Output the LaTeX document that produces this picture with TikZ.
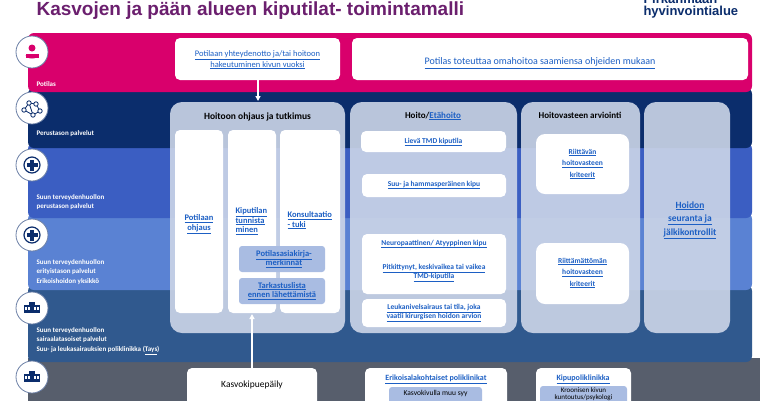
\documentclass[tikz,border=0pt]{standalone}
\usepackage{fontspec}
\setmainfont{Carlito}
\newfontfamily\titlefont{Liberation Sans}
\usetikzlibrary{arrows.meta}
\definecolor{cpink}{HTML}{D9006C}
\definecolor{cnavy}{HTML}{0B2D6C}
\definecolor{cblue}{HTML}{3B5EC2}
\definecolor{clblue}{HTML}{5A82D3}
\definecolor{csteel}{HTML}{30598E}
\definecolor{cgray}{HTML}{575E6C}
\definecolor{cpanel}{HTML}{CDD6E8}
\definecolor{csub}{HTML}{A9BCE2}
\definecolor{clink}{HTML}{1C5FC4}
\definecolor{cpurple}{HTML}{6B1F6E}
\newcommand{\lnk}[1]{\underline{#1}}
\tikzset{
  band/.style={rounded corners=6pt},
  whitebox/.style={fill=white,rounded corners=5pt,draw=none},
  panel/.style={fill=cpanel,fill opacity=0.9,rounded corners=12pt},
  subbox/.style={fill=csub,rounded corners=3pt},
  lnktxt/.style={text=clink,font=\bfseries\fontsize{8.5}{9.5}\selectfont,align=center},
  lbl/.style={text=white,font=\bfseries\fontsize{7}{9.5}\selectfont,anchor=west,align=left},
  ico/.style={circle,fill=white,draw=cnavy!60,line width=0.8pt,minimum size=32pt,inner sep=0pt},
  arr/.style={-{Triangle[length=5pt,width=5pt]},white,line width=1.5pt}
}
\begin{document}
\begin{tikzpicture}[x=1pt,y=-1pt]
\useasboundingbox (0,0) rectangle (760,400);
\clip (0,0) rectangle (760,400);
\fill[white] (0,0) rectangle (760,400);
% bands
\fill[cgray] (28,358) rectangle (760,410);
\fill[csteel,band] (28,285) rectangle (752,362);
\fill[clblue,band] (28,213) rectangle (752,290);
\fill[cblue,band] (28,143) rectangle (752,218);
\fill[cnavy,band] (28,88) rectangle (752,148);
\fill[cpink,band] (28,33) rectangle (752,92);
% title
\node[anchor=west,text=cpurple,font=\titlefont\bfseries\fontsize{19}{20}\selectfont] (title) at (33,11) {Kasvojen ja pään alueen kiputilat- toimintamalli};
\node[anchor=north west,text=cnavy,font=\titlefont\bfseries\fontsize{13}{12}\selectfont,align=left] (logo) at (640,-9) {Pirkanmaan\\hyvinvointialue};
% icons
\node[ico] (i1) at (32,52) {};
\node[ico] (i2) at (32,108) {};
\node[ico] (i3) at (32,165) {};
\node[ico] (i4) at (32,235) {};
\node[ico] (i5) at (32,308) {};
\node[ico] (i6) at (32,377) {};
\fill[cpink] (32,48) circle (3.5);
\fill[cpink] (25.5,58) rectangle (38.5,54) ;
\fill[cpink] (25.5,55) arc (180:0:6.5 and 3.5);
\begin{scope}[cnavy,line width=0.8pt]
\draw (24,110)--(29,103)--(36,104)--(40,111)--(33,115)--(24,110) (29,103)--(33,115);
\foreach \p in {(24,110),(29,103),(36,104),(40,111),(33,115)} \draw[fill=white] \p circle (2.2);
\end{scope}
\foreach \yy in {165,235}{
 \draw[cnavy,line width=1.2pt] (32,\yy) circle (8);
 \fill[cnavy] (30.3,\yy-5.5) rectangle (33.7,\yy+5.5);
 \fill[cnavy] (26.5,\yy-1.7) rectangle (37.5,\yy+1.7);
}
\foreach \yy in {308,377}{
 \fill[cnavy] (24,\yy-3) rectangle (40,\yy+5);
 \fill[cnavy] (29,\yy-6) rectangle (35,\yy-3);
 \foreach \xx in {26,29,35,38} \fill[white] (\xx-0.8,\yy-1) rectangle (\xx+0.8,\yy+1.5);
}
% band labels
\node[lbl] (l1) at (33,84) {Potilas};
\node[lbl] (l2) at (33,134) {Perustason palvelut};
\node[lbl] (l3) at (33,202) {Suun terveydenhuollon\\perustason palvelut};
\node[lbl] (l4) at (33,272) {Suun terveydenhuollon\\erityistason palvelut\\Erikoishoidon yksikkö};
\node[lbl] (l5) at (33,341) {Suun terveydenhuollon\\sairaalatasoiset palvelut\\Suu- ja leukasairauksien poliklinikka (\underline{Tays})};
% top boxes
\fill[whitebox] (175,38) rectangle (340,80);
\node[text=clink,font=\fontsize{8.5}{8.5}\selectfont,align=center] (b1) at (257.5,60) {\lnk{Potilaan yhteydenotto ja/tai hoitoon}\\\lnk{hakeutuminen kivun vuoksi}};
\fill[whitebox] (352,38) rectangle (748,80);
\node[text=clink,font=\fontsize{10}{10}\selectfont] (b2) at (540,63) {\lnk{Potilas toteuttaa omahoitoa saamiensa ohjeiden mukaan}};
% panels
\fill[panel] (170,102) rectangle (345,333);
\fill[panel] (350,102) rectangle (517,333);
\fill[panel] (521,102) rectangle (640,333);
\fill[panel] (644,102) rectangle (730,333);
\coordinate (p1top) at (258,101);
\coordinate (b1bot) at (258,80);
\draw[arr] (b1bot) -- (p1top);
\node[font=\bfseries\fontsize{9.5}{10}\selectfont] (t1) at (257.5,117) {Hoitoon ohjaus ja tutkimus};
\node[font=\bfseries\fontsize{9}{10}\selectfont] (t2) at (433,116) {Hoito/{\color{clink}\lnk{Etähoito}}};
\node[font=\bfseries\fontsize{9}{10}\selectfont] (t3) at (580,115) {Hoitovasteen arviointi};
% panel1 columns
\fill[whitebox] (175,130) rectangle (223,313);
\fill[whitebox] (228,130) rectangle (276,313);
\fill[whitebox] (280,130) rectangle (340,313);
\node[lnktxt,text width=46pt] (c1) at (199,224) {\lnk{Potilaan}\\\lnk{ohjaus}};
\node[lnktxt,anchor=north west,align=left] (c2) at (232,204) {\lnk{Kiputilan}\\\lnk{tunnista}\\\lnk{minen}};
\node[lnktxt,anchor=north west,align=left] (c3) at (284,208) {\lnk{Konsultaatio}\\\lnk{- tuki}};
\fill[subbox] (239,246) rectangle (325,272);
\node[lnktxt] (s1) at (284,259) {\lnk{Potilasasiakirja-}\\\lnk{merkinnät}};
\fill[subbox] (239,278) rectangle (325,304);
\node[lnktxt] (s2) at (282,291) {\lnk{Tarkastuslista}\\\lnk{ennen lähettämistä}};
% panel2
\fill[whitebox] (361,131) rectangle (506,152);
\node[lnktxt,font=\bfseries\fontsize{7.5}{8}\selectfont] (h1) at (433.5,142) {\lnk{Lievä TMD kiputila}};
\fill[whitebox] (362,174) rectangle (506,197);
\node[lnktxt,font=\bfseries\fontsize{7.5}{8}\selectfont] (h2) at (434,185) {\lnk{Suu- ja hammasperäinen kipu}};
\fill[whitebox] (362,234) rectangle (506,294);
\node[lnktxt,font=\bfseries\fontsize{7.5}{8}\selectfont] (h3) at (434,244) {\lnk{Neuropaattinen/ Atyyppinen kipu}};
\node[lnktxt,font=\bfseries\fontsize{7.5}{8}\selectfont] (h4) at (434,273) {\lnk{Pitkittynyt, keskivaikea tai vaikea}\\\lnk{TMD-kiputila}};
\fill[whitebox] (362,299) rectangle (506,327);
\node[lnktxt,font=\bfseries\fontsize{7.5}{8}\selectfont] (h5) at (434,313) {\lnk{Leukanivelsairaus tai tila, joka}\\\lnk{vaatii kirurgisen hoidon arvion}};
% panel3
\fill[whitebox,rounded corners=9pt] (536,134) rectangle (629,194);
\node[lnktxt,font=\bfseries\fontsize{7.5}{11.5}\selectfont] (r1) at (582.5,164) {\lnk{Riittävän}\\\lnk{hoitovasteen}\\\lnk{kriteerit}};
\fill[whitebox,rounded corners=9pt] (536,243) rectangle (629,304);
\node[lnktxt,font=\bfseries\fontsize{7.5}{11.5}\selectfont] (r2) at (582.5,273) {\lnk{Riittämättömän}\\\lnk{hoitovasteen}\\\lnk{kriteerit}};
% panel4
\node[lnktxt,font=\bfseries\fontsize{9.5}{13.5}\selectfont] (f1) at (690,220) {\lnk{Hoidon}\\\lnk{seuranta ja}\\\lnk{jälkikontrollit}};
% bottom
\fill[whitebox] (187,368) rectangle (317,410);
\node[font=\fontsize{9.5}{10}\selectfont] (k1) at (252,385) {Kasvokipuepäily};
\draw[arr] (252,368) -- (252,314);
\fill[whitebox] (365,368) rectangle (507,410);
\node[lnktxt,font=\bfseries\fontsize{8}{8}\selectfont] (e1) at (436,379) {\lnk{Erikoisalakohtaiset poliklinikat}};
\fill[subbox] (389,387) rectangle (482,405);
\node[font=\fontsize{7.5}{8}\selectfont] (e2) at (435.5,393) {Kasvokivulla muu syy};
\fill[whitebox] (536,368) rectangle (631,410);
\node[lnktxt,font=\bfseries\fontsize{8}{8}\selectfont] (e3) at (583,379) {\lnk{Kipupoliklinikka}};
\fill[subbox] (540,386) rectangle (627,405);
\node[font=\fontsize{7}{6.5}\selectfont,align=center] (e4) at (583.5,394) {Kroonisen kivun\\kuntoutus/psykologi};
\end{tikzpicture}
\end{document}
